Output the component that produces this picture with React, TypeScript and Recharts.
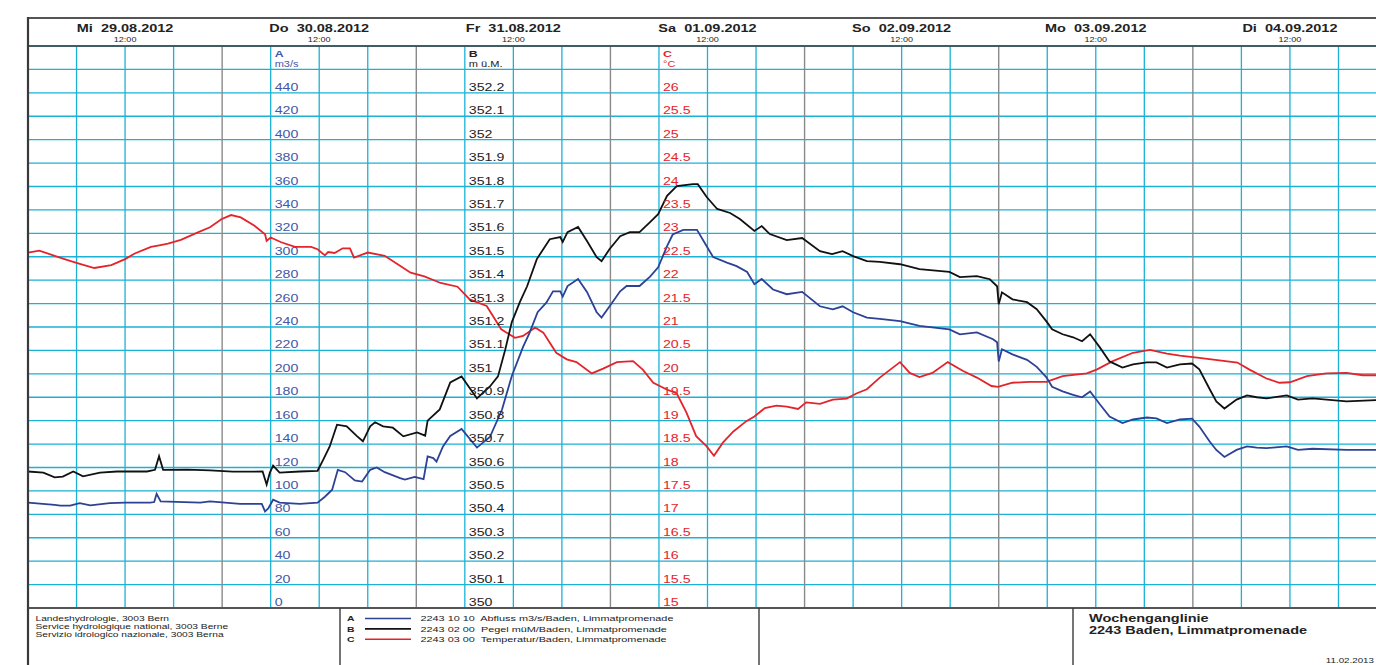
import React from 'react'
import { LineChart, Line, XAxis, YAxis, CartesianGrid, ReferenceLine } from 'recharts'

// Wochenganglinie 2243 Baden, Limmatpromenade, 29.08.2012 - 04.09.2012
const dayLabels = [
  'Mi  29.08.2012',
  'Do  30.08.2012',
  'Fr  31.08.2012',
  'Sa  01.09.2012',
  'So  02.09.2012',
  'Mo  03.09.2012',
  'Di  04.09.2012',
]
const noonHours = [12, 36, 60, 84, 108, 132, 156]
const sixHourLines = [0, 6, 12, 18, 30, 36, 42, 54, 60, 66, 78, 84, 90, 102, 108, 114, 126, 132, 138, 150, 156, 162, 168]
const midnightHours = [24, 48, 72, 96, 120, 144]

const flowTicks = [0, 20, 40, 60, 80, 100, 120, 140, 160, 180, 200, 220, 240, 260, 280, 300, 320, 340, 360, 380, 400, 420, 440, 460, 480]
const levelTicks = [350, 350.1, 350.2, 350.3, 350.4, 350.5, 350.6, 350.7, 350.8, 350.9, 351, 351.1, 351.2, 351.3, 351.4, 351.5, 351.6, 351.7, 351.8, 351.9, 352, 352.1, 352.2]
const tempTicks = [15, 15.5, 16, 16.5, 17, 17.5, 18, 18.5, 19, 19.5, 20, 20.5, 21, 21.5, 22, 22.5, 23, 23.5, 24, 24.5, 25, 25.5, 26]

// A: Abfluss m3/s
const flowHours = [0, 3.3, 4, 5.2, 6.4, 7.7, 10.1, 12, 15.1, 15.6, 15.9, 16.4, 21.3, 22.5, 26.2, 28.9, 29.3, 29.7, 30.3, 31.1, 33.6, 35.8, 36.7, 37.6, 38.3, 39.2, 40.4, 41.3, 42.3, 43.1, 44.1, 46, 46.6, 47.8, 48.9, 49.4, 50.1, 50.5, 51.3, 52.2, 53.6, 55.5, 57.1, 58.6, 59.8, 61.2, 62, 63, 64.1, 64.9, 65.8, 66.1, 66.7, 68, 69.1, 70.3, 70.9, 71.9, 73.2, 74, 75.6, 76.9, 77.9, 79, 79.7, 81, 82.7, 83.9, 84.7, 86.4, 87.6, 88.9, 89.8, 90.7, 92.1, 93.8, 95.7, 97.9, 99.5, 100.7, 102, 103.7, 105.3, 107.8, 110.2, 113.9, 115.2, 117.3, 119.3, 119.8, 120, 120.4, 121.7, 123.5, 124.7, 125.9, 126.6, 127.9, 129.2, 130.3, 131.3, 132.5, 133.7, 135.3, 136.6, 138.3, 139.5, 140.8, 142.4, 143.9, 144.8, 146.1, 146.9, 147.9, 149.4, 150.7, 151.9, 153.1, 155.6, 157, 158.8, 163, 168]
const flowValues = [90, 88, 87.5, 87.5, 89.5, 87.7, 89.5, 90, 90, 90.5, 97.5, 91, 90, 91, 89, 89, 82.5, 85, 92.5, 90, 89, 90, 95, 101, 118, 116, 109, 108, 118, 120, 116, 111, 109.6, 112, 110, 129.5, 128, 125, 138, 147, 153, 137, 146, 169.5, 198, 223, 235, 252.6, 261, 270.5, 270.5, 266, 275, 281, 270, 252.6, 248, 257.7, 270.5, 275, 275, 283, 291, 309, 319, 323, 323, 309, 299.7, 295, 292, 287, 276.5, 281, 272, 268, 270, 257.7, 255, 257.7, 252.6, 248, 247, 245, 241, 238, 233.7, 235.4, 229.5, 227, 210.6, 221, 216.6, 212, 206, 197, 189, 185, 182, 180, 185, 174, 163.5, 158, 161, 162.7, 162, 158, 161, 161.8, 155, 142, 135, 129, 135, 138, 137, 136.5, 138, 135, 136, 135, 135]

// B: Pegel m ü.M.
const levelHours = [0, 1.9, 3.3, 4.3, 5.6, 6.8, 8.9, 11, 14.7, 15.7, 16.2, 16.7, 19.7, 22.5, 25.3, 29, 29.5, 29.9, 30.3, 31.1, 33.6, 35.8, 36.5, 37.3, 38.2, 39.4, 40.7, 41.4, 42.3, 42.9, 43.9, 45.1, 46.4, 48.1, 49.1, 49.4, 50.9, 52.2, 53.6, 55.5, 57.1, 58.1, 59, 59.8, 60.8, 61.7, 62.9, 64.5, 65.8, 66.1, 66.7, 68, 69.1, 70.3, 70.9, 71.9, 73.2, 74.4, 75.6, 76.9, 77.9, 79, 80.2, 82.2, 82.8, 83.9, 85.2, 86.8, 88, 89.8, 90.7, 91.7, 93.8, 95.7, 97.9, 99.4, 100.7, 102, 103.7, 105.3, 107.8, 110.2, 113.9, 115.2, 117.3, 118.9, 119.8, 120, 120.4, 121.7, 123.5, 124.7, 125.9, 126.6, 127.9, 129.2, 130.3, 131.3, 132.5, 133.7, 135.3, 136.6, 138.3, 139.5, 140.8, 142.4, 143.9, 144.8, 146.1, 146.9, 147.9, 149.4, 150.7, 151.9, 153.1, 155.6, 157, 158.8, 163, 168]
const levelValues = [350.583, 350.578, 350.558, 350.561, 350.583, 350.562, 350.578, 350.583, 350.583, 350.59, 350.648, 350.59, 350.591, 350.588, 350.582, 350.583, 350.527, 350.578, 350.608, 350.578, 350.583, 350.586, 350.634, 350.69, 350.783, 350.776, 350.733, 350.712, 350.776, 350.793, 350.776, 350.77, 350.733, 350.75, 350.736, 350.8, 350.848, 350.963, 350.989, 350.895, 350.946, 350.989, 351.104, 351.22, 351.306, 351.374, 351.49, 351.575, 351.584, 351.563, 351.605, 351.627, 351.567, 351.498, 351.481, 351.533, 351.588, 351.605, 351.605, 351.648, 351.682, 351.76, 351.802, 351.81, 351.81, 351.755, 351.704, 351.687, 351.661, 351.61, 351.631, 351.597, 351.571, 351.58, 351.524, 351.511, 351.524, 351.503, 351.481, 351.478, 351.468, 351.447, 351.435, 351.413, 351.417, 351.404, 351.374, 351.297, 351.348, 351.318, 351.306, 351.276, 351.224, 351.19, 351.169, 351.156, 351.139, 351.169, 351.113, 351.053, 351.027, 351.04, 351.049, 351.049, 351.027, 351.04, 351.044, 351.019, 350.933, 350.882, 350.852, 350.89, 350.908, 350.9, 350.895, 350.908, 350.89, 350.895, 350.882, 350.89]

// C: Temperatur °C
const tempHours = [0, 1.4, 3.3, 4.9, 6.2, 8.2, 10.3, 12, 13.2, 15.2, 16.4, 17.3, 18.9, 21, 22.5, 23.9, 25.1, 26.3, 28, 29.3, 29.5, 30, 31.3, 33, 35, 35.8, 36.7, 37.1, 37.9, 38.9, 39.8, 40.3, 42, 44.1, 45.7, 47.3, 49, 51, 53.1, 54.6, 56.7, 58.5, 60.2, 61.2, 62.7, 63.7, 65.3, 66.6, 67.8, 69.7, 71.1, 72.8, 74.8, 76, 77.3, 78.9, 80.2, 81.4, 82.6, 83.9, 84.8, 85.9, 87.2, 88.8, 89.8, 91.1, 92.5, 93.8, 95.2, 96.2, 97.9, 99.5, 101.2, 102.4, 103.7, 105.3, 107.8, 109, 110.2, 111.8, 113.7, 115.6, 117.3, 119.1, 119.9, 121.7, 123.8, 125.9, 127.9, 130.9, 132.1, 134.1, 136.6, 138.7, 140.8, 142.4, 144.8, 149.5, 151, 153.1, 154.7, 156, 158.1, 160.5, 163, 165, 168]
const tempValues = [22.59, 22.63, 22.52, 22.43, 22.36, 22.26, 22.32, 22.45, 22.57, 22.71, 22.75, 22.78, 22.86, 23.02, 23.13, 23.3, 23.39, 23.34, 23.16, 22.98, 22.84, 22.91, 22.81, 22.71, 22.71, 22.66, 22.53, 22.6, 22.58, 22.68, 22.68, 22.48, 22.59, 22.52, 22.34, 22.16, 22.08, 21.94, 21.86, 21.59, 21.45, 20.95, 20.77, 20.81, 20.99, 20.88, 20.45, 20.31, 20.25, 20.01, 20.11, 20.25, 20.27, 20.09, 19.81, 19.67, 19.58, 19.17, 18.67, 18.45, 18.25, 18.53, 18.77, 18.99, 19.09, 19.27, 19.32, 19.3, 19.25, 19.39, 19.36, 19.45, 19.47, 19.58, 19.67, 19.92, 20.25, 20.02, 19.93, 20.02, 20.25, 20.06, 19.92, 19.74, 19.72, 19.81, 19.83, 19.83, 19.95, 20.01, 20.09, 20.27, 20.45, 20.51, 20.43, 20.39, 20.34, 20.24, 20.09, 19.9, 19.81, 19.82, 19.95, 20.01, 20.02, 19.97, 19.97]

const officeLines = [
  'Landeshydrologie, 3003 Bern',
  'Service hydrologique national, 3003 Berne',
  'Servizio idrologico nazionale, 3003 Berna',
]
const legendKeys = ['A', 'B', 'C']
const legendTexts = [
  '2243 10 10  Abfluss m3/s/Baden, Limmatpromenade',
  '2243 02 00  Pegel müM/Baden, Limmatpromenade',
  '2243 03 00  Temperatur/Baden, Limmatpromenade',
]

const flowData = flowHours.map((h, i) => ({ h, v: flowValues[i] }))
const levelData = levelHours.map((h, i) => ({ h, v: levelValues[i] }))
const tempData = tempHours.map((h, i) => ({ h, v: tempValues[i] }))

const BLUE = '#2d4195'
const BLUE_TEXT = '#4357a6'
const BLACK = '#111111'
const RED = '#e4242b'
const GRID = '#1bb2d6'
const DAYLINE = '#8a8a8a'
const FRAME = '#3a3a3a'
const FONT = 'Liberation Sans, Arial, sans-serif'

const W = 1376
const H = 665
const CHART_W = 1400
const PLOT_LEFT = 28
const PLOT_RIGHT = 1387
const PLOT_TOP = 46
const PLOT_BOTTOM = 608
const AXIS_W = 1
const PX_PER_HOUR = (PLOT_RIGHT - PLOT_LEFT) / 168
const labelX = (h: number) => PLOT_LEFT + h * PX_PER_HOUR + 4

const colors = [BLUE, BLACK, RED]

function Txt({ x, y, size, scale, fill = '#222', weight = 'normal', anchor = 'start', children }: any) {
  return (
    <text
      transform={`translate(${x} ${y}) scale(${scale} 1)`}
      fontSize={size}
      fontWeight={weight}
      fill={fill}
      textAnchor={anchor}
      fontFamily={FONT}
      style={{ whiteSpace: 'pre' }}
    >
      {children}
    </text>
  )
}

const axisTick = (x: number, color: string, max: number) => (props: any) => {
  const { y, payload } = props
  if (payload.value > max) return <g />
  return (
    <Txt x={x} y={y - 2} size={10.5} scale={1.35} fill={color}>
      {String(Number(Number(payload.value).toFixed(1)))}
    </Txt>
  )
}

const dayTick = (props: any) => {
  const { x, payload } = props
  const idx = noonHours.indexOf(payload.value)
  return (
    <g>
      <Txt x={x} y={32.2} size={11.5} scale={1.26} weight="bold" anchor="middle">
        {dayLabels[idx]}
      </Txt>
      <Txt x={x} y={41.7} size={7} scale={1.3} anchor="middle">
        12:00
      </Txt>
    </g>
  )
}

export default function App() {
  return (
    <div
      style={{
        position: 'absolute',
        left: 0,
        top: 0,
        width: W,
        height: H,
        overflow: 'hidden',
        background: '#fff',
      }}
    >
      <LineChart
        width={CHART_W}
        height={H}
        margin={{ top: 18, right: CHART_W - PLOT_RIGHT, bottom: H - PLOT_BOTTOM, left: PLOT_LEFT - 3 * AXIS_W }}
      >
        <CartesianGrid xAxisId="t" yAxisId="A" stroke={GRID} strokeWidth={1.3} vertical={false} />
        <XAxis
          xAxisId="t"
          orientation="top"
          dataKey="h"
          type="number"
          domain={[0, 168]}
          ticks={noonHours}
          interval={0}
          height={PLOT_TOP - 18}
          axisLine={false}
          tickLine={false}
          tick={dayTick}
          allowDuplicatedCategory={false}
        />
        <YAxis
          yAxisId="A"
          domain={[0, 480]}
          ticks={flowTicks}
          interval={0}
          width={AXIS_W}
          axisLine={false}
          tickLine={false}
          tick={axisTick(labelX(30), BLUE_TEXT, 440)}
        />
        <YAxis
          yAxisId="B"
          domain={[350, 352.4]}
          ticks={levelTicks}
          interval={0}
          width={AXIS_W}
          axisLine={false}
          tickLine={false}
          tick={axisTick(labelX(54), '#222', 352.2)}
        />
        <YAxis
          yAxisId="C"
          domain={[15, 27]}
          ticks={tempTicks}
          interval={0}
          width={AXIS_W}
          axisLine={false}
          tickLine={false}
          tick={axisTick(labelX(78), RED, 26)}
        />
        {sixHourLines.map(h => (
          <ReferenceLine key={'g' + h} x={h} xAxisId="t" yAxisId="A" stroke={GRID} strokeWidth={1.3} />
        ))}
        {midnightHours.map(h => (
          <ReferenceLine key={'d' + h} x={h} xAxisId="t" yAxisId="A" stroke={DAYLINE} strokeWidth={1.4} />
        ))}
        <Line
          data={tempData}
          xAxisId="t"
          yAxisId="C"
          dataKey="v"
          type="linear"
          stroke={RED}
          strokeWidth={1.8}
          dot={false}
          isAnimationActive={false}
        />
        <Line
          data={flowData}
          xAxisId="t"
          yAxisId="A"
          dataKey="v"
          type="linear"
          stroke={BLUE}
          strokeWidth={1.8}
          dot={false}
          isAnimationActive={false}
        />
        <Line
          data={levelData}
          xAxisId="t"
          yAxisId="B"
          dataKey="v"
          type="linear"
          stroke={BLACK}
          strokeWidth={1.8}
          dot={false}
          isAnimationActive={false}
        />
      </LineChart>

      <svg
        width={W}
        height={H}
        style={{ position: 'absolute', left: 0, top: 0, pointerEvents: 'none' }}
      >
        {/* frame */}
        <line x1={PLOT_LEFT} y1={18} x2={W} y2={18} stroke="#555" strokeWidth={2} />
        <line x1={PLOT_LEFT} y1={PLOT_TOP} x2={W} y2={PLOT_TOP} stroke={FRAME} strokeWidth={1.5} />
        <line x1={PLOT_LEFT} y1={PLOT_BOTTOM} x2={W} y2={PLOT_BOTTOM} stroke="#555" strokeWidth={2} />
        <line x1={PLOT_LEFT} y1={17} x2={PLOT_LEFT} y2={H} stroke={FRAME} strokeWidth={2.2} />
        <line x1={340} y1={PLOT_BOTTOM} x2={340} y2={H} stroke={FRAME} strokeWidth={1.4} />
        <line x1={759} y1={PLOT_BOTTOM} x2={759} y2={H} stroke={FRAME} strokeWidth={1.4} />
        <line x1={1073} y1={PLOT_BOTTOM} x2={1073} y2={H} stroke={FRAME} strokeWidth={1.4} />

        {/* axis titles */}
        <Txt x={labelX(30)} y={57.3} size={9.5} scale={1.3} weight="bold" fill={BLUE_TEXT}>A</Txt>
        <Txt x={labelX(30)} y={66.5} size={8.5} scale={1.3} fill={BLUE_TEXT}>m3/s</Txt>
        <Txt x={labelX(54)} y={57.3} size={9.5} scale={1.3} weight="bold" fill="#222">B</Txt>
        <Txt x={labelX(54)} y={66.5} size={8.5} scale={1.3} fill="#222">m ü.M.</Txt>
        <Txt x={labelX(78)} y={57.3} size={9.5} scale={1.3} weight="bold" fill={RED}>C</Txt>
        <Txt x={labelX(78)} y={66.5} size={8.5} scale={1.3} fill={RED}>°C</Txt>

        {/* footer */}
        {officeLines.map((t, i) => (
          <Txt key={t} x={35.5} y={620.6 + i * 8.4} size={8} scale={1.28}>{t}</Txt>
        ))}
        {legendKeys.map((k, i) => (
          <g key={k}>
            <Txt x={347} y={621.3 + i * 10.4} size={8} scale={1.3} weight="bold">{k}</Txt>
            <line x1={365} y1={618.5 + i * 10.4} x2={411} y2={618.5 + i * 10.4} stroke={colors[i]} strokeWidth={1.6} />
            <Txt x={420.5} y={621.3 + i * 10.4} size={8} scale={1.36}>{legendTexts[i]}</Txt>
          </g>
        ))}
        <Txt x={1089} y={622.4} size={10} scale={1.45} weight="bold">Wochenganglinie</Txt>
        <Txt x={1089} y={634} size={10} scale={1.45} weight="bold">2243 Baden, Limmatpromenade</Txt>
        <Txt x={1374} y={663} size={7} scale={1.4} anchor="end">11.02.2013</Txt>
      </svg>
    </div>
  )
}
